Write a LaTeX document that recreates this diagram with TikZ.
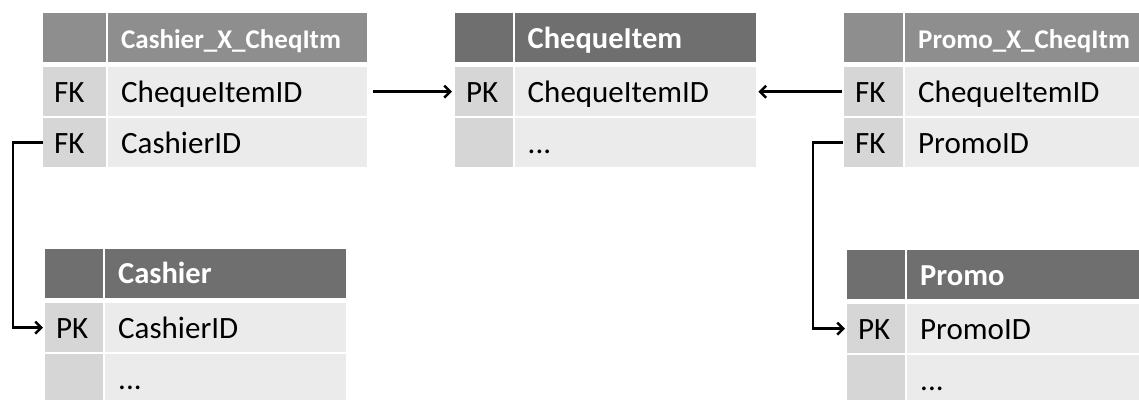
\documentclass[tikz,border=0pt]{standalone}
\usepackage{fontspec}
\setmainfont{Carlito}
\usetikzlibrary{arrows.meta}

\definecolor{hdrdark}{HTML}{6F6F6F}
\definecolor{hdrlight}{HTML}{8E8E8E}
\definecolor{keygray}{HTML}{D6D6D6}
\definecolor{namegray}{HTML}{EBEBEB}

\newcommand\rowfnt{\fontsize{31}{31}\selectfont}
\newcommand\hdrfnt{\bfseries\fontsize{30.5}{30.5}\selectfont}
\newcommand\hdrsmallfnt{\bfseries\fontsize{27}{27}\selectfont}

\tikzset{
  cell/.style={rectangle, anchor=north west, inner ysep=0pt, align=left,
               text height=35pt, text depth=14pt},
  keycell/.style={cell, fill=keygray, inner xsep=11pt, font=\rowfnt, text width=#1-22pt},
  namecell/.style={cell, fill=namegray, inner xsep=13pt, font=\rowfnt, text width=#1-26pt},
  hdrkey/.style={cell, inner xsep=0pt, text width=#1},
  hdrname/.style={cell, inner xsep=13pt, text=white, text width=#1-26pt},
  conn/.style={line width=2.5pt, -{Straight Barb[length=6pt,width=12pt]}},
}

\begin{document}
\begin{tikzpicture}[x=1pt, y=-1pt]
  \useasboundingbox (0,0) rectangle (1139,399);
  \fill[white] (0,0) rectangle (1139,399);
  \clip (0,0) rectangle (1139,399);

  % Cashier_X_CheqItm
  \node[hdrkey=63pt, fill=hdrlight] (t1h) at (43,13) {};
  \node[hdrname=259pt, fill=hdrlight, font=\hdrsmallfnt] (t1n) at (108,13) {Cashier\_X\_CheqItm};
  \node[keycell=63pt] (t1k1) at (43,67) {FK};
  \node[namecell=259pt] (t1f1) at (108,67) {ChequeItemID};
  \node[keycell=63pt] (t1k2) at (43,118) {FK};
  \node[namecell=259pt] (t1f2) at (108,118) {CashierID};

  % ChequeItem
  \node[hdrkey=57.5pt, fill=hdrdark] (t2h) at (455,13) {};
  \node[hdrname=241.5pt, fill=hdrdark, font=\hdrfnt] (t2n) at (514.5,13) {ChequeItem};
  \node[keycell=57.5pt] (t2k1) at (455,67) {PK};
  \node[namecell=241.5pt] (t2f1) at (514.5,67) {ChequeItemID};
  \node[keycell=57.5pt] (t2k2) at (455,118) {};
  \node[namecell=241.5pt] (t2f2) at (514.5,118) {...};

  % Promo_X_CheqItm
  \node[hdrkey=59pt, fill=hdrlight] (t3h) at (844,13) {};
  \node[hdrname=260pt, fill=hdrlight, font=\hdrsmallfnt] (t3n) at (905,13) {Promo\_X\_CheqItm};
  \node[keycell=59pt] (t3k1) at (844,67) {FK};
  \node[namecell=260pt] (t3f1) at (905,67) {ChequeItemID};
  \node[keycell=59pt] (t3k2) at (844,118) {FK};
  \node[namecell=260pt] (t3f2) at (905,118) {PromoID};

  % Cashier
  \node[hdrkey=58pt, fill=hdrdark] (t4h) at (45,248.5) {};
  \node[hdrname=241pt, fill=hdrdark, font=\hdrfnt] (t4n) at (105,248.5) {Cashier};
  \node[keycell=58pt] (t4k1) at (45,303) {PK};
  \node[namecell=241pt] (t4f1) at (105,303) {CashierID};
  \node[keycell=58pt] (t4k2) at (45,354) {};
  \node[namecell=241pt] (t4f2) at (105,354) {...};

  % Promo
  \node[hdrkey=58pt, fill=hdrdark] (t5h) at (847,250) {};
  \node[hdrname=260pt, fill=hdrdark, font=\hdrfnt] (t5n) at (907,250) {Promo};
  \node[keycell=58pt] (t5k1) at (847,304) {PK};
  \node[namecell=260pt] (t5f1) at (907,304) {PromoID};
  \node[keycell=58pt] (t5k2) at (847,355) {};
  \node[namecell=260pt] (t5f2) at (907,355) {...};

  % Foreign-key references
  \draw[conn, shorten <=6pt, shorten >=3pt] (t1f1.east) -- (t2k1.west);
  \draw[conn, shorten <=2pt, shorten >=2pt] (t3k1.west) -- (t2f1.east);
  \draw[conn, shorten >=2pt] (t1k2.west) -- ++(-30,0) |- (t4k1.west);
  \draw[conn, shorten <=1pt, shorten >=2pt] (t3k2.west) -- ++(-31,0) |- (t5k1.west);
\end{tikzpicture}
\end{document}
